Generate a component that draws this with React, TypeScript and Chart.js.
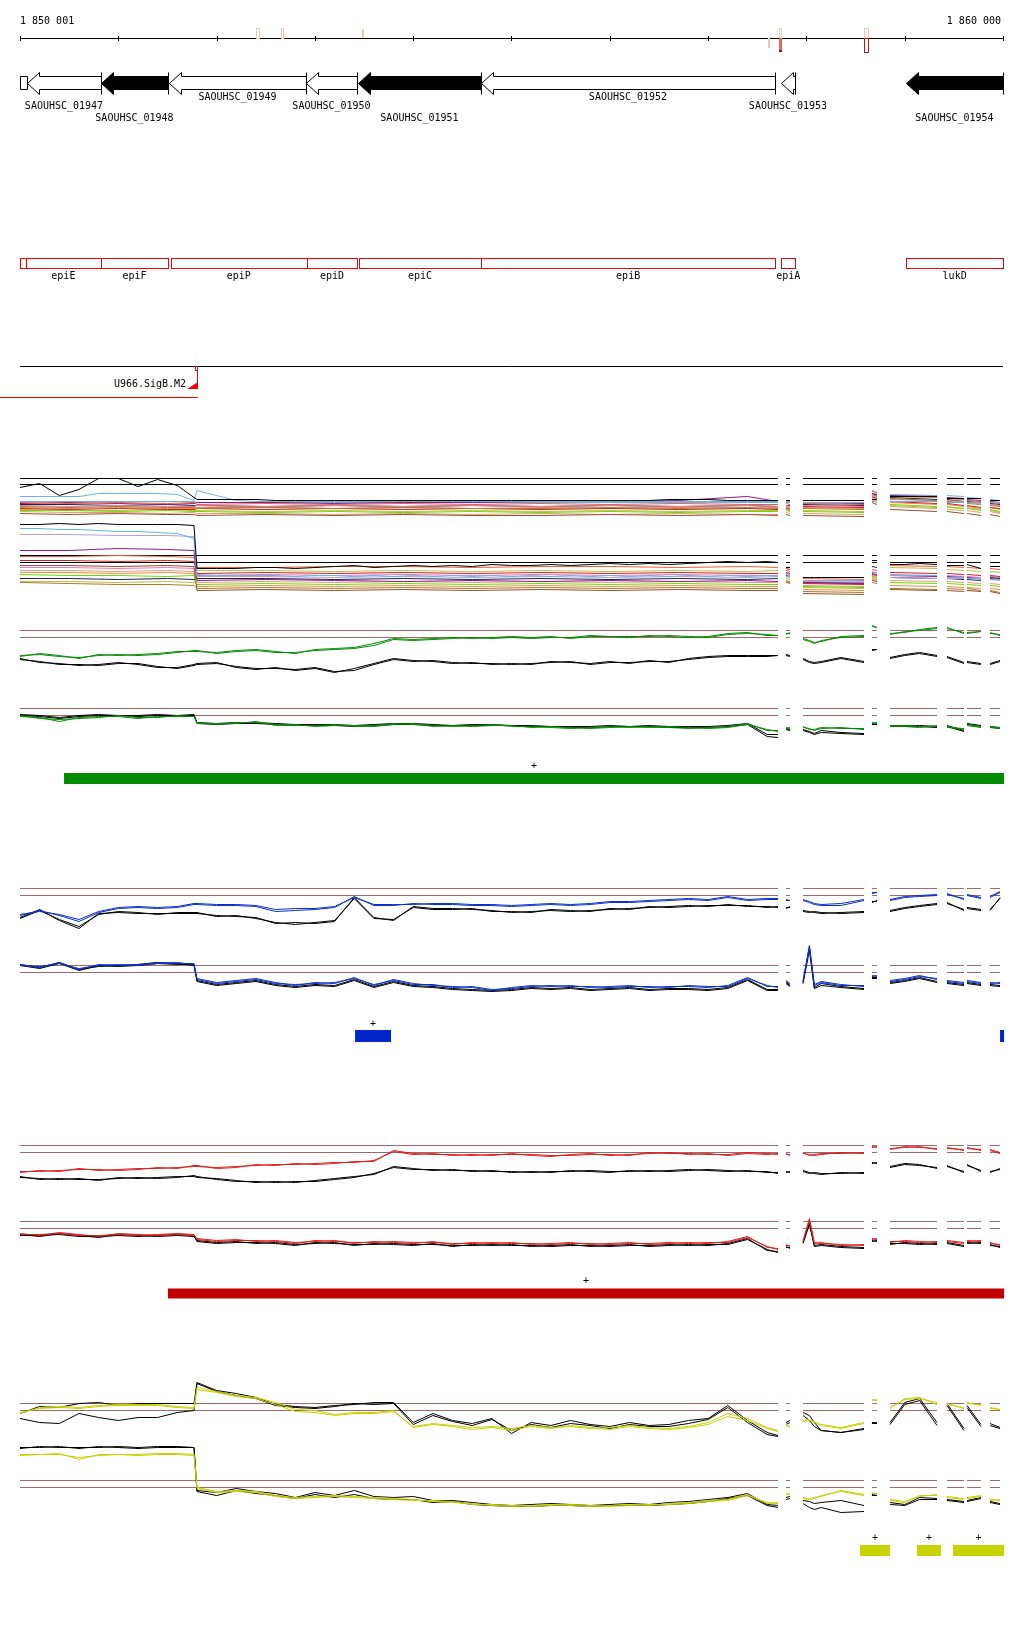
import { useEffect, useRef } from "react";
import { Chart, registerables } from "chart.js";

Chart.register(...registerables);

// ---------------- DATA ----------------
const REGION_START = 1850001;
const REGION_END = 1860000;
const AXIS_TICKS = [1850001, 1851000, 1852000, 1853000, 1854000, 1855000, 1856000, 1857000, 1858000, 1859000, 1860000];
const RULER_LABELS = ["1 850 001", "1 860 000"];

// small marks on the ruler (offsets from region start)
const MARK_START = [2401, 2655, 3479, 7609, 7721, 8585];
const MARK_END = [2431, 2675, 3499, 7629, 7741, 8626];
const MARK_KIND = ["up", "up", "upfill", "downfill", "bothred", "bothdark"];

// genes (all on minus strand)
const GENE_NAMES = ["", "SAOUHSC_01947", "SAOUHSC_01948", "SAOUHSC_01949", "SAOUHSC_01950", "SAOUHSC_01951", "SAOUHSC_01952", "SAOUHSC_01953", "SAOUHSC_01954"];
const GENE_START = [0, 71, 824, 1516, 2909, 3438, 4689, 7741, 9012];
const GENE_END = [71, 824, 1505, 2909, 3428, 4689, 7680, 7883, 9999];
const GENE_FILLED = [false, false, true, false, false, true, false, false, true];
const GENE_ROW = [1, 1, 2, 0, 1, 2, 0, 1, 2];

// features (gene symbols)
const FEATURE_NAMES = ["", "epiE", "epiF", "epiP", "epiD", "epiC", "epiB", "epiA", "lukD"];
const FEATURE_START = [0, 61, 821, 1536, 2916, 3448, 4689, 7744, 9015];
const FEATURE_END = [61, 821, 1508, 2916, 3431, 4689, 7683, 7886, 9999];

// SigB motif
const SIGB_NAME = "U966.SigB.M2";
const SIGB_SITE = [1700, 1800];
const SIGB_TRANSCRIPT = [-2100, 1800];

// measured stretches (offsets)
const SEGMENTS = [[0, 7710], [7792, 7832], [7965, 8585], [8666, 8717], [8850, 9328], [9429, 9602], [9633, 9775], [9867, 9969]];

// probe positions for signal profiles
const SIGNAL_POS = [0, 200, 400, 600, 800, 1000, 1200, 1400, 1600, 1770, 1800, 2000, 2200, 2400, 2600, 2800, 3000, 3200, 3400, 3600, 3800, 4000, 4200, 4400, 4600, 4800, 5000, 5200, 5400, 5600, 5800, 6000, 6200, 6400, 6600, 6800, 7000, 7200, 7400, 7600, 7710,
  7792, 7832, 7965, 8030, 8080, 8150, 8350, 8585, 8666, 8717, 8850, 9000, 9150, 9328, 9429, 9602, 9633, 9775, 9867, 9969];
const PROFILE_POS = [0, 500, 1000, 1500, 1770, 1800, 2500, 3200, 3900, 4600, 5300, 6000, 6700, 7400, 7710,
  7792, 7832, 7965, 8585, 8666, 8717, 8850, 9328, 9429, 9602, 9633, 9775, 9867, 9969];

// ---- panel A: many conditions (upper) ----
const A_THRESHOLDS = [0, 6];
const A_BLACK = [-3, 1, -11, -5, 6, 6, -2, 5, -1, -13, -15, -15, -15, -15, -16, -16, -16, -16, -16, -16, -16, -16, -16, -16, -16, -16, -16, -16, -16, -16, -16, -16, -16, -16, -15, -15, -15, -16, -16, -16, -16,
  -16, -16, -16, -16, -16, -16, -16, -16, -15, -15, -12, -12, -12, -12, -14, -14, -14, -14, -16, -16];
const A_LIGHTBLUE = [-12, -12, -12, -12, -9, -9, -9, -9, -10, -16, -6, -11, -16, -17, -17, -17, -17, -17, -17, -17, -17, -17, -17, -17, -17, -17, -17, -17, -17, -17, -17, -17, -17, -17, -17, -17, -17, -17, -17, -17, -17,
  -18, -18, -18, -18, -18, -18, -18, -18, -17, -17, -17, -17, -17, -17, -18, -18, -18, -18, -18, -18];
const A_COLORS = ["#e8603c", "#a08020", "#66dd00", "#8b1a8b", "#e878b8", "#a04a30", "#cc2020", "#e0a070", "#20204a", "#70b0e0", "#f08850", "#c8b848"];
const A_PROFILES = [
  [-18, -19, -18, -19, -18, -20, -19, -20, -19, -20, -19, -20, -19, -20, -20, -19, -20, -19, -20, -10, -12, -12, -13, -14, -15, -16, -17, -18, -19],
  [-22, -23, -22, -23, -23, -24, -23, -24, -23, -24, -24, -23, -24, -23, -24, -23, -24, -24, -25, -6, -8, -14, -16, -17, -18, -19, -20, -21, -22],
  [-26, -26, -27, -26, -27, -27, -28, -27, -28, -27, -28, -27, -28, -27, -27, -26, -27, -27, -28, -14, -16, -20, -22, -23, -24, -24, -26, -25, -27],
  [-19, -18, -19, -20, -19, -18, -18, -19, -18, -18, -17, -17, -16, -12, -17, -18, -18, -18, -19, -9, -11, -11, -12, -13, -14, -15, -16, -17, -18],
  [-21, -22, -21, -22, -22, -21, -22, -21, -22, -21, -22, -21, -22, -21, -22, -21, -22, -21, -22, -11, -13, -15, -16, -16, -17, -18, -19, -20, -21],
  [-29, -30, -29, -30, -30, -31, -30, -31, -30, -31, -31, -30, -31, -30, -31, -30, -31, -31, -32, -18, -20, -25, -27, -27, -29, -29, -31, -30, -32],
  [-24, -25, -24, -25, -25, -24, -25, -24, -25, -24, -25, -24, -25, -24, -25, -24, -25, -22, -23, -12, -14, -17, -19, -19, -21, -21, -23, -23, -24],
  [-27, -28, -28, -29, -28, -29, -29, -30, -29, -30, -29, -30, -29, -30, -30, -28, -29, -29, -30, -16, -18, -22, -24, -25, -26, -26, -28, -27, -29],
  [-20, -20, -21, -20, -21, -21, -22, -21, -22, -21, -22, -21, -22, -21, -22, -21, -21, -20, -21, -9, -10, -13, -15, -15, -17, -17, -18, -19, -20],
  [-17, -17, -17, -17, -17, -18, -18, -18, -18, -18, -18, -18, -18, -18, -18, -17, -17, -18, -18, -7, -8, -10, -11, -11, -12, -13, -14, -15, -16],
  [-23, -24, -23, -24, -24, -23, -23, -24, -23, -24, -23, -24, -23, -24, -23, -22, -23, -23, -24, -13, -15, -18, -20, -20, -22, -22, -24, -23, -25],
  [-25, -26, -26, -25, -26, -26, -27, -26, -27, -26, -27, -26, -27, -26, -26, -25, -26, -26, -27, -15, -17, -21, -23, -22, -24, -23, -25, -26, -28],
];

// ---- panel B: many conditions (lower) ----
const B_THRESHOLDS = [0, 7];
const B_BLACK = [38, 38, 39, 38, 39, 38, 38, 38, 38, 37, -6, -6, -6, -5, -5, -6, -5, -4, -3, -5, -4, -3, -4, -3, -4, -2, -3, -3, -2, -3, -2, -1, -2, -1, -2, -1, 0, 1, 0, 1, 0,
  -5, -5, -15, -15, -15, -15, -15, -15, 2, 2, -2, -2, -1, -2, -3, -3, -2, -6, -4, -4];
const B_LIGHTBLUE = [34, 34, 33, 33, 32, 31, 31, 30, 29, 24, -12, -13, -13, -13, -13, -14, -13, -13, -14, -13, -14, -13, -14, -13, -14, -13, -14, -13, -14, -13, -14, -13, -14, -13, -14, -13, -14, -13, -14, -13, -14,
  -14, -14, -18, -18, -18, -18, -18, -18, -10, -10, -13, -13, -13, -13, -15, -15, -16, -16, -17, -17];
const B_COLORS = ["#b0a0d8", "#901890", "#e8603c", "#a08020", "#66dd00", "#a04a30", "#cc2020", "#e0a070", "#20204a", "#e878b8", "#f08850", "#c8b848"];
const B_PROFILES = [
  [28, 28, 27, 27, 26, -14, -14, -15, -14, -15, -14, -15, -14, -15, -14, -12, -13, -18, -19, -9, -10, -15, -16, -16, -16, -16, -17, -17, -18],
  [12, 12, 14, 13, 12, -18, -17, -18, -19, -18, -19, -18, -19, -18, -19, -10, -11, -20, -21, -11, -12, -13, -14, -14, -15, -15, -16, -16, -17],
  [6, 6, 7, 6, 5, -5, -5, -4, -4, -5, -4, -4, -5, -4, -5, -8, -9, -16, -17, -7, -8, -3, -4, -4, -5, -5, -6, -6, -7],
  [-20, -21, -22, -22, -23, -26, -25, -26, -25, -26, -25, -26, -25, -26, -26, -20, -21, -29, -30, -20, -21, -26, -27, -26, -27, -26, -28, -28, -30],
  [-12, -13, -13, -14, -13, -22, -21, -22, -21, -22, -21, -22, -21, -22, -22, -16, -17, -24, -25, -14, -15, -20, -21, -21, -22, -22, -23, -23, -24],
  [-3, -3, -4, -3, -4, -28, -27, -28, -27, -28, -27, -28, -27, -28, -28, -19, -20, -31, -32, -18, -19, -27, -28, -28, -29, -28, -29, -29, -31],
  [2, 2, 1, 2, 1, -11, -10, -11, -10, -11, -10, -11, -10, -11, -11, -6, -7, -21, -22, -12, -13, -10, -11, -11, -12, -12, -13, -13, -14],
  [-8, -8, -9, -8, -9, -20, -19, -20, -19, -20, -19, -20, -19, -20, -20, -14, -15, -23, -24, -16, -17, -18, -19, -19, -20, -20, -21, -21, -22],
  [-16, -16, -17, -16, -17, -16, -16, -17, -16, -17, -16, -17, -16, -17, -16, -13, -14, -20, -21, -4, -5, -15, -16, -16, -17, -17, -18, -15, -16],
  [-5, -5, -6, -5, -6, -13, -12, -13, -12, -13, -12, -13, -12, -13, -13, -11, -12, -19, -20, -13, -14, -12, -13, -13, -14, -14, -15, -14, -15],
  [-10, -10, -11, -10, -11, -24, -23, -24, -23, -24, -23, -24, -23, -24, -24, -18, -19, -27, -28, -17, -18, -23, -24, -24, -25, -25, -26, -26, -27],
  [-19, -19, -20, -19, -20, -8, -8, -9, -8, -9, -8, -9, -8, -9, -8, -4, -5, -25, -26, -15, -16, -5, -6, -7, -8, -8, -9, -9, -10],
];

// ---- signal panels: [sample1, sample2], [control1, control2] ----
const SIGNAL_THRESHOLDS = [0, 7];

const GREEN_TOP = [
  [-19, -16, -18, -21, -17, -18, -17, -16, -14, -14, -14, -15, -13, -12, -14, -16, -12, -11, -10, -6, -1, -2, -1, 0, -1, 0, 1, 0, 1, -1, 1, 1, 0, 2, 1, 0, 1, 4, 5, 2, 2,
    4, 4, -1, -3, -5, -4, 1, 2, 11, 10, 4, 5, 8, 10, 10, 4, 5, 6, 5, 2],
  [-18, -17, -19, -20, -18, -17, -18, -17, -15, -13, -13, -16, -14, -13, -15, -15, -13, -12, -11, -8, -2, -3, -2, -1, 0, -1, 0, -1, 0, 0, 2, 1, 1, 1, 2, 1, 0, 3, 4, 3, 2,
    3, 5, -2, -4, -6, -3, 0, 1, 12, 10, 3, 6, 7, 9, 9, 5, 4, 6, 4, 3],
];
const GREEN_TOP_CTRL = [
  [-21, -25, -26, -28, -27, -25, -27, -30, -30, -27, -26, -25, -30, -32, -30, -33, -31, -35, -31, -26, -21, -23, -24, -26, -25, -27, -26, -27, -24, -25, -26, -24, -26, -23, -25, -21, -19, -18, -18, -18, -18,
    -17, -18, -21, -24, -25, -24, -20, -24, -12, -12, -20, -17, -15, -18, -19, -25, -24, -26, -26, -23],
  [-22, -24, -27, -27, -28, -26, -26, -29, -31, -28, -27, -26, -29, -31, -31, -32, -30, -34, -33, -27, -22, -24, -23, -25, -26, -26, -27, -26, -25, -24, -27, -25, -25, -24, -24, -22, -20, -19, -19, -19, -18,
    -18, -19, -22, -25, -26, -25, -21, -25, -13, -12, -21, -18, -16, -19, -20, -26, -25, -27, -27, -24],
];
const GREEN_BOTTOM = [
  [-1, -2, -6, -2, -1, -1, -3, -1, -1, -1, -7, -9, -7, -7, -9, -10, -10, -9, -11, -10, -8, -9, -10, -11, -10, -9, -11, -11, -12, -13, -12, -11, -12, -11, -12, -13, -12, -11, -8, -15, -15,
    -13, -12, -12, -13, -15, -13, -12, -14, -7, -8, -11, -10, -11, -11, -11, -14, -9, -11, -12, -12],
  [0, -3, -4, -3, -2, 0, -2, -2, 0, -1, -8, -8, -8, -6, -10, -9, -11, -10, -10, -11, -9, -8, -11, -10, -11, -10, -10, -12, -11, -12, -13, -12, -11, -12, -11, -12, -13, -12, -9, -14, -16,
    -12, -13, -11, -14, -14, -12, -13, -13, -8, -7, -10, -11, -12, -10, -12, -13, -10, -12, -11, -13],
];
const GREEN_BOTTOM_CTRL = [
  [0, -1, -3, -1, 0, 0, -1, 0, 0, 0, -7, -8, -7, -7, -8, -9, -9, -9, -10, -9, -8, -8, -9, -10, -9, -9, -10, -10, -11, -11, -11, -10, -11, -10, -11, -11, -11, -10, -8, -19, -19,
    -13, -14, -14, -16, -18, -15, -17, -18, -8, -9, -10, -11, -10, -11, -10, -15, -8, -10, -11, -12],
  [1, 0, -2, 0, 1, 0, 0, 1, 0, 1, -8, -9, -8, -8, -9, -10, -10, -10, -11, -10, -9, -9, -10, -10, -10, -10, -10, -11, -11, -12, -12, -11, -11, -11, -12, -12, -12, -11, -9, -21, -22,
    -14, -15, -15, -17, -19, -17, -18, -19, -9, -9, -11, -10, -11, -12, -11, -16, -9, -11, -12, -13],
];

const BLUE_TOP = [
  [-20, -15, -20, -26, -17, -13, -12, -13, -12, -9, -9, -10, -10, -11, -16, -15, -14, -12, -1, -10, -10, -8, -9, -9, -10, -10, -11, -10, -9, -10, -9, -7, -7, -6, -5, -4, -5, -2, -5, -4, -4,
    -5, -5, -5, -7, -9, -10, -10, -5, 3, 3, -5, -2, -1, 0, 2, -4, 0, -3, -2, 3],
  [-19, -16, -19, -24, -16, -12, -11, -12, -11, -8, -8, -9, -9, -10, -14, -13, -13, -11, -2, -9, -9, -9, -8, -8, -9, -9, -10, -9, -8, -9, -8, -6, -6, -5, -4, -3, -4, -1, -4, -3, -3,
    -4, -5, -4, -6, -8, -9, -8, -4, 2, 3, -4, -1, 0, 1, 1, -3, 1, -2, -1, 4],
];
const BLUE_TOP_CTRL = [
  [-22, -14, -25, -33, -18, -17, -18, -18, -18, -18, -18, -20, -21, -22, -28, -27, -28, -26, -2, -22, -25, -11, -13, -13, -14, -15, -17, -16, -15, -16, -15, -14, -13, -12, -11, -10, -11, -9, -11, -11, -12,
    -12, -12, -15, -16, -17, -18, -17, -16, -6, -6, -15, -12, -10, -8, -7, -15, -13, -15, -15, -2],
  [-23, -15, -24, -31, -19, -16, -17, -19, -17, -17, -17, -21, -20, -23, -27, -29, -27, -25, -3, -23, -24, -12, -14, -14, -13, -16, -16, -17, -14, -15, -16, -13, -14, -11, -12, -11, -10, -10, -10, -12, -11,
    -13, -11, -16, -17, -16, -17, -18, -17, -7, -5, -16, -13, -11, -9, -8, -14, -12, -14, -14, -3],
];
const BLUE_BOTTOM = [
  [8, 5, 10, 3, 8, 7, 8, 10, 9, 9, -6, -10, -8, -6, -10, -13, -10, -11, -5, -13, -7, -11, -13, -14, -15, -18, -15, -13, -14, -13, -15, -14, -13, -15, -14, -14, -15, -13, -5, -14, -14,
    -8, -11, -8, 27, -12, -9, -12, -14, -3, -4, -8, -6, -3, -7, -8, -10, -8, -10, -10, -11],
  [7, 6, 9, 4, 7, 8, 7, 9, 10, 8, -7, -11, -9, -7, -11, -12, -11, -10, -6, -12, -8, -12, -12, -15, -14, -17, -16, -14, -13, -14, -14, -15, -14, -14, -15, -13, -14, -14, -6, -13, -15,
    -9, -12, -9, 25, -13, -10, -13, -13, -4, -3, -9, -7, -4, -6, -9, -11, -9, -11, -11, -10],
];
const BLUE_BOTTOM_CTRL = [
  [7, 4, 9, 2, 7, 6, 7, 9, 8, 8, -8, -12, -10, -8, -12, -14, -12, -13, -7, -14, -9, -13, -14, -16, -17, -18, -17, -15, -16, -15, -17, -16, -15, -17, -16, -16, -17, -15, -7, -17, -17,
    -10, -13, -10, 26, -15, -11, -14, -16, -5, -5, -10, -8, -5, -9, -10, -12, -10, -12, -12, -13],
  [8, 5, 10, 3, 6, 7, 8, 10, 9, 7, -9, -13, -11, -9, -13, -15, -13, -14, -8, -15, -10, -14, -15, -17, -18, -19, -18, -16, -17, -16, -18, -17, -16, -18, -17, -17, -18, -16, -8, -18, -18,
    -11, -14, -11, 22, -16, -13, -15, -17, -6, -6, -11, -9, -6, -10, -11, -13, -11, -13, -13, -14],
];

const RED_TOP = [
  [-20, -18, -19, -16, -18, -17, -16, -16, -15, -14, -14, -15, -14, -13, -12, -12, -11, -10, -10, -8, 1, -2, -1, -3, -2, -3, -1, -3, -4, -2, -1, -3, -2, -1, 0, -2, -1, -3, -1, -2, -1,
    -2, -2, -1, -2, -3, -2, 0, -1, 5, 6, 4, 5, 6, 3, 5, 2, 4, 3, 2, -1],
  [-19, -19, -18, -17, -17, -18, -17, -15, -16, -13, -13, -16, -15, -12, -13, -11, -12, -11, -9, -9, 2, -1, -2, -2, -3, -2, -2, -2, -3, -3, -2, -2, -3, 0, -1, -1, -2, -2, 0, -1, -2,
    -1, -3, 0, -3, -2, -1, -1, 0, 6, 5, 3, 6, 5, 4, 4, 3, 5, 2, 3, 0],
];
const RED_TOP_CTRL = [
  [-25, -26, -27, -26, -28, -25, -26, -25, -24, -24, -25, -26, -28, -30, -29, -30, -28, -26, -24, -22, -14, -16, -18, -17, -19, -18, -20, -19, -20, -18, -19, -20, -18, -19, -18, -17, -18, -19, -18, -20, -20,
    -19, -20, -18, -20, -21, -22, -20, -21, -10, -11, -14, -11, -12, -16, -13, -20, -12, -19, -20, -16],
  [-24, -27, -26, -27, -27, -26, -25, -26, -25, -23, -24, -27, -29, -29, -30, -29, -29, -27, -25, -21, -15, -17, -17, -18, -18, -19, -19, -20, -19, -19, -18, -19, -19, -18, -19, -18, -17, -18, -19, -19, -21,
    -20, -19, -19, -21, -20, -21, -21, -20, -11, -10, -15, -12, -13, -15, -14, -19, -13, -18, -19, -17],
];
const RED_BOTTOM = [
  [-5, -7, -4, -6, -8, -5, -6, -7, -6, -7, -10, -12, -11, -13, -12, -14, -13, -12, -15, -13, -14, -15, -13, -16, -14, -15, -14, -16, -15, -14, -16, -15, -14, -16, -15, -14, -15, -13, -8, -19, -20,
    -16, -18, -12, 10, -14, -15, -16, -17, -10, -11, -14, -12, -13, -14, -12, -14, -13, -12, -14, -17],
  [-6, -6, -5, -7, -7, -6, -7, -6, -5, -6, -11, -13, -12, -12, -13, -15, -12, -13, -14, -14, -13, -14, -14, -15, -15, -14, -15, -15, -16, -15, -15, -16, -15, -15, -14, -15, -14, -14, -9, -18, -21,
    -17, -17, -13, 8, -15, -14, -17, -16, -11, -10, -13, -13, -14, -13, -13, -15, -12, -13, -15, -16],
];
const RED_BOTTOM_CTRL = [
  [-6, -8, -5, -7, -9, -6, -7, -8, -7, -8, -12, -14, -13, -15, -14, -16, -15, -14, -17, -15, -16, -17, -15, -18, -16, -17, -16, -18, -17, -16, -18, -17, -16, -18, -17, -16, -17, -15, -10, -22, -23,
    -18, -20, -14, 6, -18, -17, -19, -20, -12, -13, -16, -14, -15, -16, -14, -17, -15, -14, -16, -19],
  [-7, -7, -6, -8, -8, -7, -8, -7, -6, -7, -13, -15, -14, -14, -15, -17, -14, -15, -16, -16, -15, -16, -16, -17, -17, -16, -17, -17, -18, -17, -17, -18, -17, -17, -16, -17, -16, -16, -11, -21, -24,
    -19, -19, -15, 4, -17, -16, -18, -19, -13, -12, -15, -15, -16, -15, -15, -18, -14, -15, -17, -18],
];

const YELLOW_TOP = [
  [-3, 3, 4, 3, 5, 6, 6, 6, 4, 3, 23, 19, 15, 13, 8, 1, 0, -4, -2, -2, 0, -17, -14, -16, -19, -17, -20, -16, -18, -15, -17, -19, -16, -18, -19, -17, -14, -6, -10, -18, -21,
    -15, -17, -11, -10, -11, -15, -18, -13, 11, 10, 2, 12, 13, 6, 7, 2, 8, 5, 3, 1],
  [-2, 2, 3, 2, 4, 5, 5, 5, 3, 2, 21, 18, 14, 12, 6, -1, -2, -5, -3, -3, -1, -16, -13, -15, -17, -16, -18, -15, -17, -16, -18, -17, -15, -17, -18, -16, -12, -3, -8, -17, -20,
    -14, -16, -10, -9, -12, -14, -17, -12, 10, 11, 3, 11, 12, 8, 6, 3, 7, 6, 2, 1],
];
const YELLOW_TOP_CTRL = [
  [-3, 4, 3, 7, 8, 5, 7, 7, 7, 7, 28, 20, 17, 13, 6, 4, 3, 5, 6, 8, 8, -12, -3, -10, -13, -8, -23, -12, -15, -10, -14, -16, -12, -15, -14, -10, -8, 5, -10, -22, -25,
    -12, -10, -2, -5, -12, -20, -22, -18, -12, -12, -12, 8, 12, -12, 7, -18, 5, -14, -13, -17],
  [-8, -12, -13, -3, -7, -10, -7, -7, -2, 0, 27, 19, 15, 12, 5, 3, 2, 4, 7, 6, 7, -14, -5, -11, -15, -9, -20, -14, -17, -13, -15, -18, -14, -16, -16, -13, -9, 3, -12, -24, -26,
    -14, -12, -5, -10, -16, -20, -22, -19, -13, -13, -14, 6, 10, -15, 5, -20, 3, -16, -15, -18],
];
const YELLOW_BOTTOM = [
  [33, 33, 34, 28, 33, 33, 33, 34, 34, 33, 0, -4, -3, -4, -8, -10, -9, -8, -9, -10, -11, -12, -14, -15, -16, -18, -19, -18, -17, -18, -19, -18, -17, -18, -16, -15, -13, -12, -7, -16, -15,
    -6, -7, -10, -11, -10, -9, -3, -7, -6, -6, -13, -15, -8, -8, -9, -11, -10, -8, -12, -13],
  [32, 33, 33, 30, 32, 33, 32, 33, 33, 32, -1, -5, -4, -5, -9, -11, -10, -9, -10, -11, -12, -13, -13, -14, -17, -17, -18, -19, -18, -17, -18, -19, -18, -17, -17, -16, -14, -13, -8, -15, -16,
    -7, -6, -11, -12, -11, -8, -4, -8, -5, -7, -12, -14, -9, -7, -10, -12, -11, -9, -13, -12],
];
const YELLOW_BOTTOM_CTRL = [
  [40, 40, 41, 39, 41, 40, 39, 40, 40, 40, -3, -5, -1, -4, -6, -10, -5, -8, -3, -9, -10, -9, -13, -13, -15, -17, -18, -17, -16, -17, -18, -17, -16, -17, -15, -14, -12, -10, -6, -17, -18,
    -10, -9, -13, -14, -16, -15, -13, -18, -7, -6, -15, -17, -10, -11, -12, -14, -13, -10, -14, -16],
  [39, 41, 40, 40, 40, 41, 40, 41, 41, 40, -4, -8, -3, -6, -8, -11, -7, -10, -7, -11, -12, -12, -15, -14, -17, -18, -19, -19, -18, -18, -19, -18, -18, -18, -17, -16, -14, -11, -8, -18, -20,
    -12, -11, -16, -20, -22, -20, -25, -24, -8, -8, -17, -18, -12, -12, -13, -15, -14, -11, -15, -17],
];

// enriched regions (offset start, offset end)
const GREEN_REGIONS = [[448, 10010]];
const BLUE_REGIONS = [[3408, 3774], [9969, 10010]];
const RED_REGIONS = [[1505, 10010]];
const YELLOW_REGIONS = [[8544, 8850], [9124, 9368], [9490, 10010]];

// ---------------- LAYOUT / STYLE ----------------
const W = 1024;
const H = 1640;
const PLOT_LEFT = 20;
const PLOT_RIGHT = 1003;
const FONT = "10px 'DejaVu Sans Mono', 'Liberation Mono', monospace";
const LAY = {
  rulerLabelY: 21, axisY: 38, tickTop: 36, tickBottom: 41,
  markTop: 28, markMid: 38, markBottom: 52,
  headTop: 72, bodyTop: 76, mid: 83, bodyBottom: 89, headBottom: 94, headLen: 12,
  geneLabelRows: [97, 106, 118],
  featTop: 258, featBottom: 268, featLabelY: 276,
  sigLineY: 366, sigLabelY: 384, sigArrowTop: 382, sigArrowBottom: 389, sigBoxBottom: 370, sigRedLineY: 397,
};
const PANEL_REF = { A: 484, B: 562, C1: 637, C2: 715, D1: 895, D2: 972, E1: 1152, E2: 1228, F1: 1410, F2: 1487 };
const PIXEL_ALIGN = 0.5; // keeps 1px horizontal strokes crisp
const BAR_ROWS = { green: 778.5, blue: 1036, red: 1293.5, yellow: 1550.5 };
const BAR_THICK = 11;
const REF_COLOR = "#a06868";

// ---------------- BUILDERS ----------------
type Pt = { x: number; y: number | null };
const segIndex = (p: number) => SEGMENTS.findIndex(([s, e]) => p >= s && p <= e);

function trackPoints(pos: number[], vals: number[]): Pt[] {
  const pts: Pt[] = [];
  const n = Math.min(pos.length, vals.length);
  let prev = -99;
  for (let i = 0; i < n; i++) {
    const seg = segIndex(pos[i]);
    if (i > 0 && seg !== prev) pts.push({ x: REGION_START + (pos[i - 1] + pos[i]) / 2, y: null });
    pts.push({ x: REGION_START + pos[i], y: vals[i] });
    prev = seg;
  }
  return pts;
}
function thresholdPoints(v: number): Pt[] {
  const pts: Pt[] = [];
  SEGMENTS.forEach(([s, e], i) => {
    if (i > 0) pts.push({ x: REGION_START + (SEGMENTS[i - 1][1] + s) / 2, y: null });
    pts.push({ x: REGION_START + s, y: v }, { x: REGION_START + e, y: v });
  });
  return pts;
}
function barPoints(regions: number[][], row: number): Pt[] {
  const pts: Pt[] = [];
  regions.forEach(([s, e], i) => {
    if (i > 0) pts.push({ x: REGION_START + (regions[i - 1][1] + s) / 2, y: null });
    pts.push({ x: REGION_START + s, y: row }, { x: REGION_START + e, y: row });
  });
  return pts;
}
function line(data: Pt[], color: string, axis: string, width = 1) {
  return {
    type: "line", data, borderColor: color, backgroundColor: color, borderWidth: width,
    pointRadius: 0, pointHoverRadius: 0, tension: 0, fill: false, spanGaps: false, yAxisID: axis,
  };
}

function buildDatasets() {
  const ds: any[] = [];
  // panel A
  ds.push(line(trackPoints(SIGNAL_POS, A_BLACK), "#000", "pA"));
  ds.push(line(trackPoints(SIGNAL_POS, A_LIGHTBLUE), "#66b3e6", "pA"));
  A_PROFILES.forEach((p, i) => ds.push(line(trackPoints(PROFILE_POS, p), A_COLORS[i], "pA")));
  A_THRESHOLDS.forEach((t) => ds.push(line(thresholdPoints(t), "#000", "pA")));
  // panel B
  ds.push(line(trackPoints(SIGNAL_POS, B_BLACK), "#000", "pB"));
  ds.push(line(trackPoints(SIGNAL_POS, B_LIGHTBLUE), "#66b3e6", "pB"));
  B_PROFILES.forEach((p, i) => ds.push(line(trackPoints(PROFILE_POS, p), B_COLORS[i], "pB")));
  B_THRESHOLDS.forEach((t) => ds.push(line(thresholdPoints(t), "#000", "pB")));
  // signal panels
  const sig: [string, number[][], number[][], string][] = [
    ["pC1", GREEN_TOP, GREEN_TOP_CTRL, "#008c00"],
    ["pC2", GREEN_BOTTOM, GREEN_BOTTOM_CTRL, "#008c00"],
    ["pD1", BLUE_TOP, BLUE_TOP_CTRL, "#0a30d0"],
    ["pD2", BLUE_BOTTOM, BLUE_BOTTOM_CTRL, "#0a30d0"],
    ["pE1", RED_TOP, RED_TOP_CTRL, "#dc1e1e"],
    ["pE2", RED_BOTTOM, RED_BOTTOM_CTRL, "#dc1e1e"],
    ["pF1", YELLOW_TOP, YELLOW_TOP_CTRL, "#c8d200"],
    ["pF2", YELLOW_BOTTOM, YELLOW_BOTTOM_CTRL, "#c8d200"],
  ];
  for (const [axis, samples, ctrls, color] of sig) {
    samples.forEach((v) => ds.push(line(trackPoints(SIGNAL_POS, v), color, axis)));
    ctrls.forEach((v) => ds.push(line(trackPoints(SIGNAL_POS, v), "#000", axis)));
    SIGNAL_THRESHOLDS.forEach((t) => ds.push(line(thresholdPoints(t), REF_COLOR, axis)));
  }
  // enriched regions
  ds.push(line(barPoints(GREEN_REGIONS, BAR_ROWS.green), "#008c00", "yL", BAR_THICK));
  ds.push(line(barPoints(BLUE_REGIONS, BAR_ROWS.blue), "#0026c8", "yL", BAR_THICK + 1));
  ds.push(line(barPoints(RED_REGIONS, BAR_ROWS.red), "#c00000", "yL", BAR_THICK - 1));
  ds.push(line(barPoints(YELLOW_REGIONS, BAR_ROWS.yellow), "#c6d400", "yL", BAR_THICK));
  return ds;
}

// ---------------- ANNOTATION PLUGIN ----------------
const trackPlugin = {
  id: "genomeTracks",
  afterDatasetsDraw(chart: any) {
    const ctx: CanvasRenderingContext2D = chart.ctx;
    const xs = chart.scales.x;
    const ys = chart.scales.yL;
    const XA = (abs: number) => xs.getPixelForValue(abs);
    const X = (off: number) => xs.getPixelForValue(REGION_START + off);
    const Y = (v: number) => ys.getPixelForValue(v);
    const c = (v: number) => Math.round(v) + 0.5;
    ctx.save();
    ctx.font = FONT;
    ctx.textBaseline = "middle";
    ctx.lineWidth = 1;

    // ruler
    ctx.strokeStyle = "#000";
    ctx.beginPath();
    ctx.moveTo(XA(REGION_START), c(Y(LAY.axisY)));
    ctx.lineTo(XA(REGION_END), c(Y(LAY.axisY)));
    AXIS_TICKS.forEach((t) => {
      const x = c(XA(t));
      ctx.moveTo(x, Y(LAY.tickTop));
      ctx.lineTo(x, Y(LAY.tickBottom));
    });
    ctx.stroke();
    ctx.fillStyle = "#000";
    ctx.textAlign = "left";
    ctx.fillText(RULER_LABELS[0], XA(REGION_START), Y(LAY.rulerLabelY));
    ctx.textAlign = "right";
    ctx.fillText(RULER_LABELS[1], XA(REGION_END) - 2, Y(LAY.rulerLabelY));

    // ruler marks
    const pale = "#f5c6b6";
    MARK_START.forEach((s, i) => {
      const x0 = Math.round(X(s));
      const w = Math.max(2, Math.round(X(MARK_END[i]) - X(s)));
      const kind = MARK_KIND[i];
      const t = Y(LAY.markTop), m = Y(LAY.markMid), b = Y(LAY.markBottom);
      if (kind === "up" || kind === "bothred" || kind === "bothdark") {
        ctx.strokeStyle = pale;
        ctx.strokeRect(x0 + 0.5, t + 0.5, w, m - t);
      }
      if (kind === "upfill") {
        ctx.fillStyle = pale;
        ctx.fillRect(x0, t + 1, w, m - t - 1);
      }
      if (kind === "downfill") {
        ctx.fillStyle = pale;
        ctx.fillRect(x0, m, w, 10);
      }
      if (kind === "bothred") {
        ctx.fillStyle = "#e86a50";
        ctx.fillRect(x0, m, w + 1, b - m);
        ctx.fillStyle = "#a01010";
        ctx.fillRect(x0, b - 2, w + 1, 2);
      }
      if (kind === "bothdark") {
        ctx.strokeStyle = "#b01818";
        ctx.strokeRect(x0 + 0.5, m + 0.5, w, b - m);
      }
    });

    // genes
    GENE_START.forEach((s, i) => {
      const xs0 = Math.round(X(s)) + 0.5;
      const xe = Math.round(X(GENE_END[i])) + 0.5;
      const hl = Math.min(LAY.headLen, xe - xs0);
      const ht = Y(LAY.headTop) + 0.5, bt = Y(LAY.bodyTop) + 0.5, md = Y(LAY.mid) + 0.5;
      const bb = Y(LAY.bodyBottom) + 0.5, hb = Y(LAY.headBottom) + 0.5;
      ctx.strokeStyle = "#000";
      ctx.fillStyle = GENE_FILLED[i] ? "#000" : "#fff";
      ctx.beginPath();
      if (GENE_NAMES[i] === "") {
        ctx.rect(xs0, bt, xe - xs0, bb - bt);
      } else {
        ctx.moveTo(xs0, md);
        ctx.lineTo(xs0 + hl, ht);
        ctx.lineTo(xs0 + hl, bt);
        ctx.lineTo(xe, bt);
        ctx.lineTo(xe, bb);
        ctx.lineTo(xs0 + hl, bb);
        ctx.lineTo(xs0 + hl, hb);
        ctx.closePath();
      }
      ctx.fill();
      ctx.stroke();
      if (GENE_NAMES[i] !== "") {
        ctx.beginPath();
        ctx.moveTo(xe, ht);
        ctx.lineTo(xe, hb);
        ctx.stroke();
        ctx.fillStyle = "#000";
        ctx.textAlign = "center";
        ctx.fillText(GENE_NAMES[i], (X(s) + X(GENE_END[i])) / 2, Y(LAY.geneLabelRows[GENE_ROW[i]]));
      }
    });

    // features
    ctx.strokeStyle = "#ff0000";
    FEATURE_START.forEach((s, i) => {
      const x0 = Math.round(X(s)) + 0.5;
      const x1 = Math.round(X(FEATURE_END[i])) + 0.5;
      const t = Y(LAY.featTop) + 0.5, b = Y(LAY.featBottom) + 0.5;
      ctx.strokeRect(x0, t, x1 - x0, b - t);
      if (FEATURE_NAMES[i]) {
        ctx.fillStyle = "#000";
        ctx.textAlign = "center";
        ctx.fillText(FEATURE_NAMES[i], (X(s) + X(FEATURE_END[i])) / 2, Y(LAY.featLabelY));
      }
    });

    // SigB motif track
    ctx.strokeStyle = "#000";
    ctx.beginPath();
    ctx.moveTo(X(0), c(Y(LAY.sigLineY)));
    ctx.lineTo(X(9999), c(Y(LAY.sigLineY)));
    ctx.stroke();
    const sx0 = X(SIGB_SITE[0]), sx1 = Math.round(X(SIGB_SITE[1]));
    ctx.strokeStyle = "#ff0000";
    ctx.fillStyle = "#ff0000";
    ctx.strokeRect(sx1 - 2 + 0.5, Y(LAY.sigLineY) + 0.5, 2, Y(LAY.sigBoxBottom) - Y(LAY.sigLineY));
    ctx.beginPath();
    ctx.moveTo(sx1 + 0.5, Y(LAY.sigLineY));
    ctx.lineTo(sx1 + 0.5, Y(LAY.sigArrowBottom));
    ctx.stroke();
    ctx.beginPath();
    ctx.moveTo(sx0, Y(LAY.sigArrowBottom));
    ctx.lineTo(sx1 + 1, Y(LAY.sigArrowBottom));
    ctx.lineTo(sx1 + 1, Y(LAY.sigArrowTop));
    ctx.closePath();
    ctx.fill();
    ctx.beginPath();
    ctx.moveTo(X(SIGB_TRANSCRIPT[0]), c(Y(LAY.sigRedLineY)));
    ctx.lineTo(X(SIGB_TRANSCRIPT[1]) + 1, c(Y(LAY.sigRedLineY)));
    ctx.stroke();
    ctx.fillStyle = "#000";
    ctx.textAlign = "right";
    ctx.fillText(SIGB_NAME, sx0 - 1, Y(LAY.sigLabelY));

    // strand marks above enriched regions
    ctx.textAlign = "center";
    const marks: [number[][], number][] = [
      [GREEN_REGIONS, BAR_ROWS.green], [BLUE_REGIONS.slice(0, 1), BAR_ROWS.blue],
      [RED_REGIONS, BAR_ROWS.red], [YELLOW_REGIONS, BAR_ROWS.yellow],
    ];
    marks.forEach(([regs, row]) => {
      regs.forEach(([s, e]) => {
        ctx.fillText("+", (X(s) + Math.min(X(e), W)) / 2, Y(row) - 12);
      });
    });
    ctx.restore();
  },
};

// ---------------- COMPONENT ----------------
export default function App() {
  const ref = useRef<HTMLCanvasElement>(null);
  useEffect(() => {
    document.body.style.margin = "0";
    const pxPerBp = (PLOT_RIGHT - PLOT_LEFT) / (REGION_END - REGION_START);
    const xMin = REGION_START - PLOT_LEFT / pxPerBp;
    const xMax = xMin + W / pxPerBp;
    const scales: any = {
      x: { type: "linear", min: xMin, max: xMax, display: false },
      yL: { type: "linear", min: 0, max: H, reverse: true, display: false },
    };
    (Object.keys(PANEL_REF) as (keyof typeof PANEL_REF)[]).forEach((k) => {
      const top = PANEL_REF[k] + PIXEL_ALIGN;
      scales["p" + k] = { type: "linear", min: top - H, max: top, display: false };
    });
    const chart = new Chart(ref.current as HTMLCanvasElement, {
      type: "line",
      data: { datasets: buildDatasets() },
      options: {
        responsive: false,
        maintainAspectRatio: false,
        devicePixelRatio: 1,
        animation: false,
        events: [],
        layout: { padding: 0 },
        scales,
        plugins: { legend: { display: false }, tooltip: { enabled: false }, title: { display: false } },
      },
      plugins: [trackPlugin],
    } as any);
    return () => chart.destroy();
  }, []);
  return (
    <div style={{ width: W, height: H, background: "#fff" }}>
      <canvas ref={ref} width={W} height={H} style={{ display: "block", width: W, height: H }} />
    </div>
  );
}
